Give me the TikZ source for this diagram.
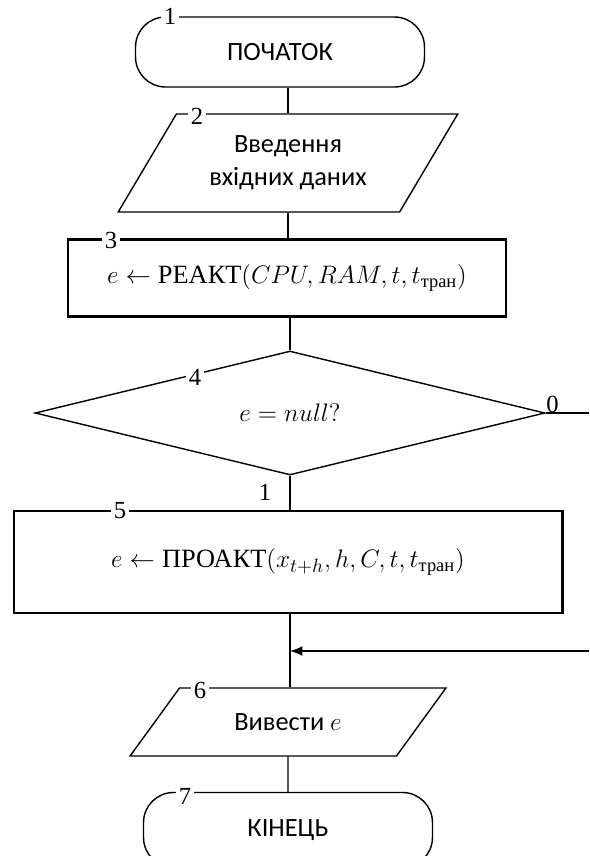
\documentclass[tikz,border=0pt]{standalone}
\usepackage{amsmath}
\usepackage{fontspec}
\setmainfont{Carlito}
\newfontfamily\rmcyr{Liberation Serif}
\usepackage{tikz}
\usetikzlibrary{arrows.meta,shapes.geometric}
\newcommand{\cyr}[1]{\text{\rmcyr #1}}

\begin{document}
\begin{tikzpicture}[
    x=0.02cm, y=-0.02cm,
    font=\fontsize{15}{19}\selectfont,
    term/.style={rectangle, draw, thick, rounded corners=0.6cm, minimum width=5.78cm, minimum height=1.4cm},
    io/.style={trapezium, draw, thick, trapezium stretches=true, align=center},
    proc/.style={rectangle, draw, line width=1.2pt, align=center},
    cond/.style={diamond, draw, thick, aspect=4, minimum width=10.2cm, minimum height=2.48cm},
    num/.style={fill=white, inner sep=1.5pt, font=\rmcyr\fontsize{14}{16}\selectfont},
    conn/.style={thick},
    flow/.style={-{Latex[length=0.25cm, width=0.2cm]}, thick}
]
    \path[use as bounding box] (0,0) rectangle (589,856);
    \clip (0,0) rectangle (589,856);

    % blocks
    \node[term] (start) at (280,52) {ПОЧАТОК};
    \node[io, trapezium left angle=56.4, trapezium right angle=123.6,
          minimum width=6.8cm, minimum height=1.96cm] (input) at (288,163)
          {Введення\\вхідних даних};
    \node[proc, minimum width=8.76cm, minimum height=1.54cm] (react) at (287,278)
          {$e \leftarrow \cyr{РЕАКТ}{\left(CPU, RAM, t, t_{\cyr{тран}}\right)}$};
    \node[cond] (test) at (290,413) {$e = null?$};
    \node[proc, minimum width=10.98cm, minimum height=2.04cm] (proact) at (288,562)
          {$e \leftarrow \cyr{ПРОАКТ}{\left(x_{t+h}, h, C, t, t_{\cyr{тран}}\right)}$};
    \node[io, trapezium left angle=46.7, trapezium right angle=133.3,
          minimum width=6.34cm, minimum height=1.36cm] (output) at (288,722)
          {Вивести $e$};
    \node[term, minimum height=1.5cm] (finish) at (288,830) {КІНЕЦЬ};

    \coordinate (out0) at (589,413);
    \coordinate (back) at (589,651);

    % connectors
    \draw[conn] (start.south -| input.north) -- (input.north);
    \draw[conn] (input.south) -- (input.south |- react.north);
    \draw[conn] (react.south -| test.north) -- (test.north);
    \draw[conn] (test.east) -- node[pos=0, above right, inner sep=0pt, font=\rmcyr\fontsize{14}{16}\selectfont] {0} (out0);
    \draw[conn] (test.south) -- node[left=7pt, font=\rmcyr\fontsize{14}{16}\selectfont] {1} (test.south |- proact.north);
    \draw[conn] (test.south |- proact.south) -- (test.south |- output.north);
    \draw[flow] (back) -- (test.south |- back);
    \draw[conn] (output.south) -- (finish.north);

    % block numbers
    \node[num] (n1) at (170,16) {1};
    \node[num] (n2) at (197,116) {2};
    \node[num] (n3) at (111,240) {3};
    \node[num] (n4) at (195,377) {4};
    \node[num] (n5) at (120,511) {5};
    \node[num] (n6) at (200,690) {6};
    \node[num] (n7) at (185,796) {7};
\end{tikzpicture}
\end{document}
